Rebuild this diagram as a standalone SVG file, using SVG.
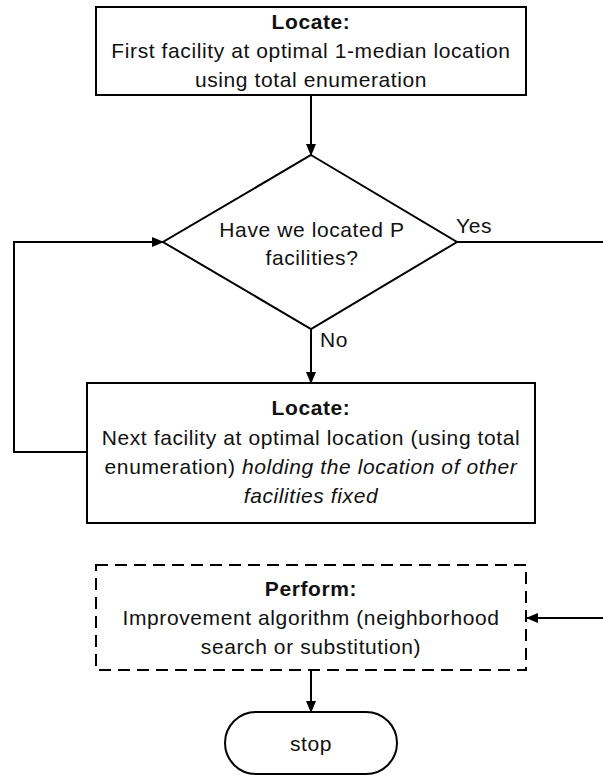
<svg xmlns="http://www.w3.org/2000/svg" width="603" height="780" viewBox="0 0 603 780">
<style>
.box{fill:#fff;stroke:#000;stroke-width:2}
.dash{fill:#fff;stroke:#000;stroke-width:2;stroke-dasharray:12 7}
.conn{fill:none;stroke:#000;stroke-width:2}
text{font-family:"Liberation Sans",Arial,sans-serif;font-size:21px;fill:#111;text-anchor:middle;letter-spacing:0.6px}
.b{font-weight:bold}
.i{font-style:italic}
.lbl{text-anchor:start}
</style>
<defs>
<marker id="ah" markerWidth="12" markerHeight="10" refX="11" refY="5" orient="auto" markerUnits="userSpaceOnUse">
<path d="M0,0 L12,5 L0,10 Z" fill="#000"/>
</marker>
</defs>
<rect width="603" height="780" fill="#fff"/>
<g id="connectors">
<path class="conn" d="M311,95 V155" marker-end="url(#ah)"/>
<path class="conn" d="M311,329 V383" marker-end="url(#ah)"/>
<path class="conn" d="M87,452 H14 V242 H163" marker-end="url(#ah)"/>
<path class="conn" d="M457,242 H603"/>
<path class="conn" d="M603,618 H527" marker-end="url(#ah)"/>
<path class="conn" d="M311,670 V712" marker-end="url(#ah)"/>
<text class="lbl" x="456" y="233">Yes</text>
<text class="lbl" x="320" y="347">No</text>
</g>
<g id="locate-first">
<rect class="box" x="96" y="7" width="430" height="88"/>
<text class="b" x="311" y="29">Locate:</text>
<text x="311" y="58">First facility at optimal 1-median location</text>
<text x="311" y="87">using total enumeration</text>
</g>
<g id="decision">
<polygon class="box" points="311,155 457,242 311,329 163,242"/>
<text x="312" y="237">Have we located P</text>
<text x="312" y="265">facilities?</text>
</g>
<g id="locate-next">
<rect class="box" x="87" y="383" width="448" height="140"/>
<text class="b" x="311" y="415">Locate:</text>
<text x="311" y="445">Next facility at optimal location (using total</text>
<text x="311" y="474">enumeration) <tspan class="i">holding the location of other</tspan></text>
<text class="i" x="311" y="503">facilities fixed</text>
</g>
<g id="perform">
<rect class="dash" x="96" y="565" width="430" height="105"/>
<text class="b" x="311" y="596">Perform:</text>
<text x="311" y="625">Improvement algorithm (neighborhood</text>
<text x="311" y="654">search or substitution)</text>
</g>
<g id="stop">
<rect class="box" x="225" y="712" width="172" height="62" rx="31" ry="31"/>
<text x="311" y="751">stop</text>
</g>
</svg>
